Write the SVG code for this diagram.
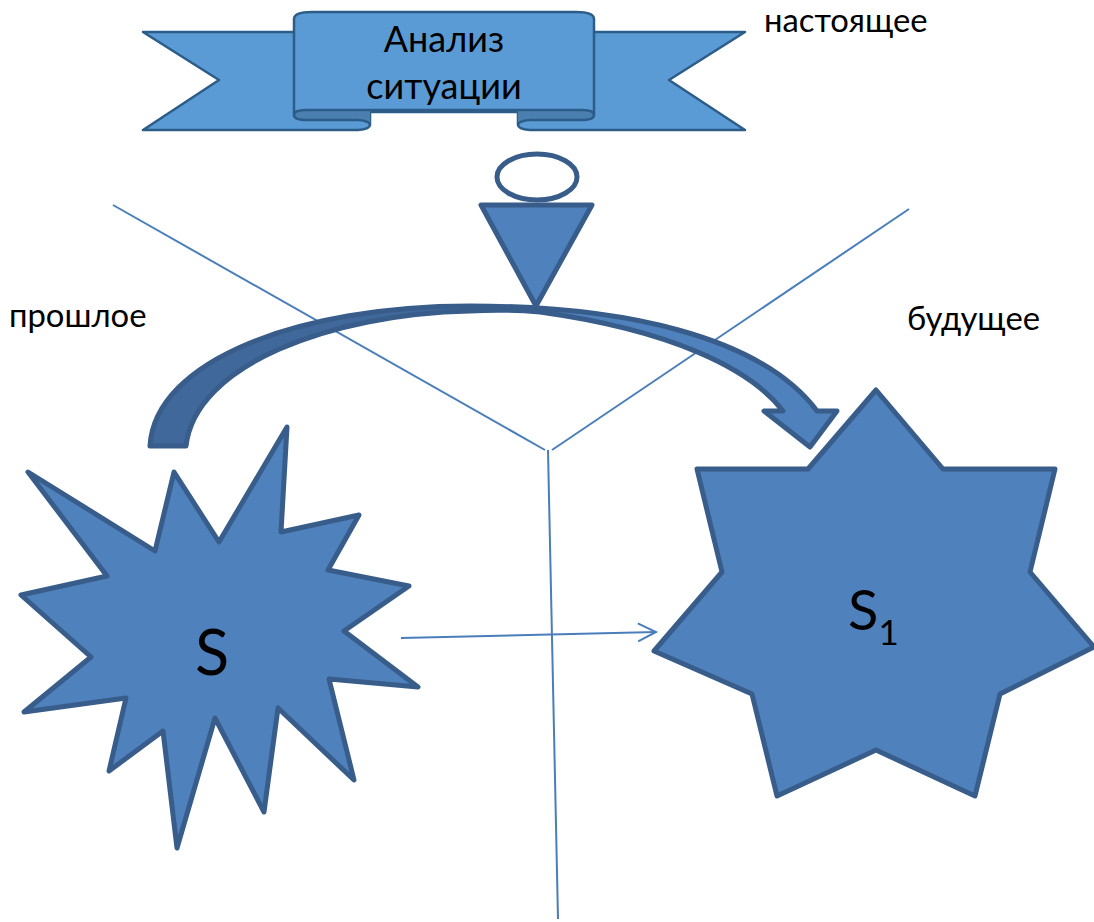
<svg xmlns="http://www.w3.org/2000/svg" width="1094" height="922" viewBox="0 0 1094 922">
<style>
text{font-family:"Lato","Liberation Sans",sans-serif;fill:#000}
.sh{fill:#4f81bd;stroke:#385d8a;stroke-width:5;stroke-linejoin:round}
.rb{fill:#5b9bd5;stroke:#2c5c88;stroke-width:2.5;stroke-linejoin:round}
.rd{fill:#4a7fb0;stroke:none}
.ln{fill:none;stroke:#4a7ebb;stroke-width:2}
.lb{font-size:32.8px}
</style>
<defs>
<linearGradient id="g" x1="149" x2="835" y1="0" y2="0" gradientUnits="userSpaceOnUse"><stop offset="0.4" stop-color="#41689a"/><stop offset="0.62" stop-color="#4f81bd"/></linearGradient>
<marker id="a" markerWidth="22" markerHeight="22" refX="19" refY="10" orient="auto" markerUnits="userSpaceOnUse"><path d="M1,1 L19,10 L1,19" fill="none" stroke="#4a7ebb" stroke-width="2"/></marker>
</defs>
<g id="connectors">
<line class="ln" x1="113" y1="205" x2="545" y2="450"/>
<line class="ln" x1="909" y1="209" x2="552" y2="450"/>
<line class="ln" x1="548" y1="450" x2="558" y2="919"/>
</g>
<g id="banner">
<path class="rb" d="M300,32H143L219,80L143,130H358Q370,129 370,125V110H518V125Q518,129 530,130H745L669,80L745,32H590V112H300Z"/>
<path class="rd" d="M370,110H306Q294,110 294,115Q294,120 306,120H358Q370,121 370,125ZM518,110H582Q594,110 594,115Q594,120 582,120H530Q518,121 518,125Z"/>
<path class="rb" d="M294,115V19Q294,12 312,12H576Q594,12 594,19V115Q594,110 582,110H306Q294,110 294,115Z"/>
<path d="M294,115Q294,120 306,120H358Q370,121 370,125M594,115Q594,120 582,120H530Q518,121 518,125" fill="none" stroke="#2c5c88" stroke-width="2.5"/>
<text x="444" y="52" font-size="36" text-anchor="middle">Анализ</text>
<text x="444" y="99" font-size="36" text-anchor="middle">ситуации</text>
</g>
<g id="present"><text class="lb" x="764" y="32">настоящее</text></g>
<g id="past"><text class="lb" x="9" y="327">прошлое</text></g>
<g id="future"><text class="lb" x="907" y="330">будущее</text></g>
<g id="marker-head"><ellipse cx="537" cy="177" rx="40" ry="23" fill="#fff" stroke="#385d8a" stroke-width="5"/></g>
<g id="arc-arrow">
<path d="M150,446C155,360 300,306 470,306C620,306 760,335 817,411H837L810,447L764,411H783C750,368 670,330 540,312Q505,309 470,311C330,314 195,365 186,446Z" fill="url(#g)" stroke="#385d8a" stroke-width="5" stroke-linejoin="round"/>
</g>
<g id="marker-triangle"><path class="sh" d="M481,205H592L536,306Z"/></g>
<g id="state-s">
<path class="sh" d="M28,472L155,551L174,472L219,542L287,427L281,532L359,515L328,570L409,586L344,631L418,687L329,679L354,780L278,708L264,812L215,718L177,848L163,731L109,771L126,698L24,712L91,657L21,595L107,576Z"/>
<text x="212" y="675" font-size="63" text-anchor="middle">S</text>
</g>
<g id="state-s1">
<path class="sh" d="M876,390L943,469H1055L1030,572L1094,647L1000,694L975,796L876,750L777,796L752,694L654,651L722,572L697,469H808Z"/>
<text x="848" y="630" font-size="56">S<tspan font-size="35" dy="15">1</tspan></text>
</g>
<g id="transition"><line class="ln" x1="401" y1="638" x2="656" y2="632" marker-end="url(#a)"/></g>
</svg>
